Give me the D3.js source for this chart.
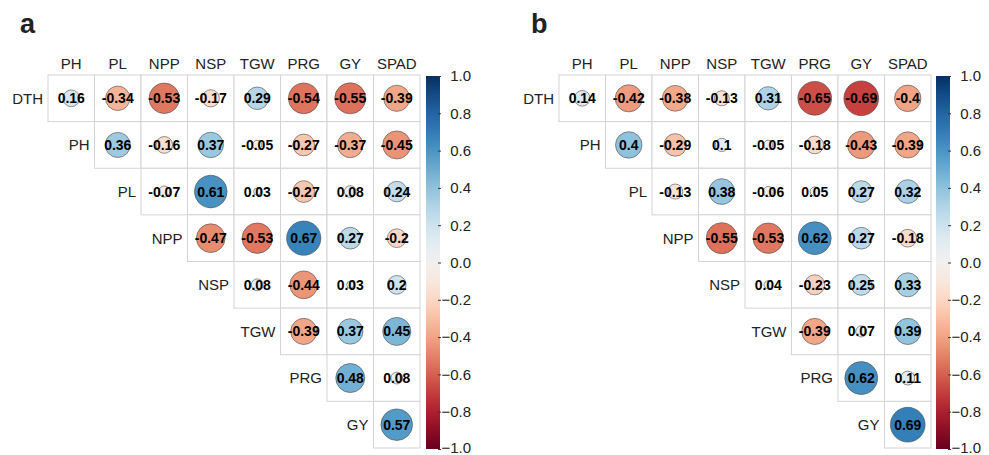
<!DOCTYPE html>
<html>
<head>
<meta charset="utf-8">
<script src="https://cdn.jsdelivr.net/npm/d3@7"></script>
<style>
  body { margin: 0; background: #fff; }
  text { font-family: "Liberation Sans", Arial, sans-serif; }
</style>
</head>
<body>
<div id="chart"></div>
<script>
// variables (upper triangle, diagonal dropped)
const rowVars = ["DTH", "PH", "PL", "NPP", "NSP", "TGW", "PRG", "GY"];
const colVars = ["PH", "PL", "NPP", "NSP", "TGW", "PRG", "GY", "SPAD"];

// correlations, row by row, starting at the column right of the diagonal
const corrA = [
  [0.16, -0.34, -0.53, -0.17, 0.29, -0.54, -0.55, -0.39],
  [0.36, -0.16, 0.37, -0.05, -0.27, -0.37, -0.45],
  [-0.07, 0.61, 0.03, -0.27, 0.08, 0.24],
  [-0.47, -0.53, 0.67, 0.27, -0.2],
  [0.08, -0.44, 0.03, 0.2],
  [-0.39, 0.37, 0.45],
  [0.48, 0.08],
  [0.57]
];
const corrB = [
  [0.14, -0.42, -0.38, -0.13, 0.31, -0.65, -0.69, -0.4],
  [0.4, -0.29, 0.1, -0.05, -0.18, -0.43, -0.39],
  [-0.13, 0.38, -0.06, 0.05, 0.27, 0.32],
  [-0.55, -0.53, 0.62, 0.27, -0.18],
  [0.04, -0.23, 0.25, 0.33],
  [-0.39, 0.07, 0.39],
  [0.62, 0.11],
  [0.69]
];
const barTicks = [1.0, 0.8, 0.6, 0.4, 0.2, 0.0, -0.2, -0.4, -0.6, -0.8, -1.0];

const width = 989, height = 455;

const svg = d3.select("#chart")
  .append("svg")
    .attr("width", width)
    .attr("height", height);

const color = v => d3.interpolateRdBu((v + 1) / 2);

const drawPanel = (corr, letter, x0, x1, y0, y1, barX) => {
  const g = svg.append("g");

  const x = d3.scaleBand().domain(colVars).range([x0, x1]);
  const y = d3.scaleBand().domain(rowVars).range([y0, y1]);
  const cw = x.bandwidth(), ch = y.bandwidth();

  const cells = [];
  corr.forEach((row, i) => {
    row.forEach((v, k) => {
      cells.push({ row: rowVars[i], col: colVars[i + k], v: v });
    });
  });

  // grid cells
  g.selectAll("rect.cell")
    .data(cells)
    .enter()
    .append("rect")
      .attr("class", "cell")
      .attr("x", d => x(d.col))
      .attr("y", d => y(d.row))
      .attr("width", cw)
      .attr("height", ch)
      .attr("fill", "#fff")
      .attr("stroke", "#d4d4d4")
      .attr("stroke-width", 1);

  // circles: radius ~ sqrt(|r|)
  g.selectAll("circle")
    .data(cells)
    .enter()
    .append("circle")
      .attr("cx", d => x(d.col) + cw / 2)
      .attr("cy", d => y(d.row) + ch / 2)
      .attr("r", d => 0.45 * Math.min(cw, ch) * Math.sqrt(Math.abs(d.v)))
      .attr("fill", d => color(d.v))
      .attr("stroke", "#4a4a4a")
      .attr("stroke-width", 0.6);

  // numbers
  g.selectAll("text.num")
    .data(cells)
    .enter()
    .append("text")
      .attr("class", "num")
      .attr("x", d => x(d.col) + cw / 2)
      .attr("y", d => y(d.row) + ch / 2)
      .attr("dy", "0.36em")
      .attr("text-anchor", "middle")
      .style("font-size", "14px")
      .style("font-weight", "bold")
      .style("fill", "#000")
      .text(d => String(d.v));

  // column labels
  g.selectAll("text.col")
    .data(colVars)
    .enter()
    .append("text")
      .attr("class", "col")
      .attr("x", d => x(d) + cw / 2)
      .attr("y", y0 - 6)
      .attr("text-anchor", "middle")
      .style("font-size", "15px")
      .style("fill", "#222")
      .text(d => d);

  // row labels, just left of each row's first cell
  g.selectAll("text.row")
    .data(rowVars)
    .enter()
    .append("text")
      .attr("class", "row")
      .attr("x", (d, i) => x(colVars[i]) - 5)
      .attr("y", d => y(d) + ch / 2)
      .attr("dy", "0.36em")
      .attr("text-anchor", "end")
      .style("font-size", "15px")
      .style("fill", "#222")
      .text(d => d);

  // colour bar
  const cb = d3.scaleLinear().domain([-1, 1]).range([y1 + 1, y0 + 1]);
  const gradId = "grad" + letter;
  const grad = svg.append("defs").append("linearGradient")
    .attr("id", gradId)
    .attr("x1", 0).attr("y1", 1).attr("x2", 0).attr("y2", 0);
  d3.range(0, 1.0001, 0.05).forEach(t => {
    grad.append("stop")
      .attr("offset", t)
      .attr("stop-color", d3.interpolateRdBu(t));
  });
  g.append("rect")
    .attr("x", barX)
    .attr("y", cb(1))
    .attr("width", 14)
    .attr("height", cb(-1) - cb(1))
    .attr("fill", `url(#${gradId})`);

  const axis = g.append("g")
    .attr("transform", `translate(${barX + 14},0)`)
    .call(d3.axisRight(cb).tickValues(barTicks).tickSize(3).tickPadding(28)
      .tickFormat(d3.format(".1f")));
  axis.select(".domain").remove();
  axis.selectAll("line").attr("stroke", "#333").attr("x1", -2).attr("x2", 1);
  axis.selectAll("text")
    .attr("text-anchor", "end")
    .attr("dy", d => d === -1 ? "0.2em" : "0.32em")
    .style("font-size", "15px")
    .style("font-family", "'Liberation Sans', Arial, sans-serif")
    .style("fill", "#222");

  // panel letter
  svg.append("text")
    .attr("x", letter === "a" ? 20 : 531)
    .attr("y", 33)
    .style("font-size", "27px")
    .style("font-weight", "bold")
    .style("fill", "#222")
    .text(letter);
};

drawPanel(corrA, "a", 48, 420, 75, 448, 426);
drawPanel(corrB, "b", 559, 931, 75, 448, 936);
</script>
</body>
</html>
